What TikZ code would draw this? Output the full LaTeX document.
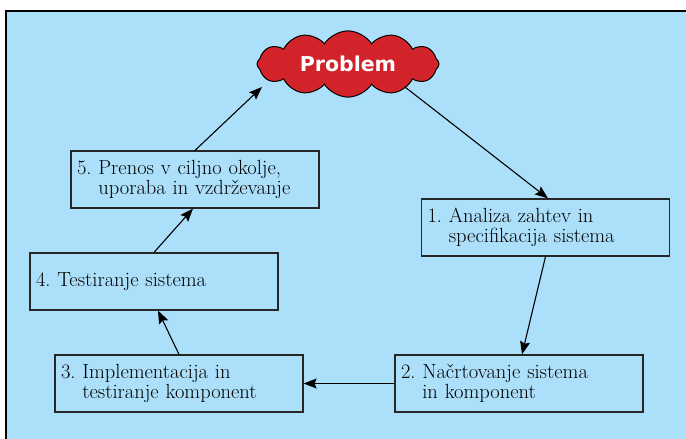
\documentclass[tikz,border=0pt]{standalone}
\usepackage{fontspec}
\newfontfamily\cloudfont{DejaVu Sans}
\usetikzlibrary{shapes.symbols,arrows.meta}
\definecolor{bgblue}{HTML}{ACE0FA}
\definecolor{cloudred}{HTML}{D2232A}
\tikzset{
  stepbox/.style={draw=black!85, line width=1.2pt, minimum width=248pt, minimum height=57pt,
    text width=236pt, inner sep=6pt, align=left,
    font=\rmfamily\frenchspacing\fontsize{20.5}{20}\selectfont},
  arr/.style={line width=1.1pt, -{Stealth[length=13pt,width=10pt,inset=2pt]}},
}
\begin{document}
\begin{tikzpicture}[x=1pt,y=-1pt]
\useasboundingbox (0,0) rectangle (686,439);
\fill[white] (0,0) rectangle (686,439);
\draw[fill=bgblue, line width=1.2pt] (6,11) rectangle (700,450);

\node[cloud, cloud puffs=12, cloud puff arc=115, aspect=2.8, fill=cloudred, draw=black,
  line width=1pt, minimum width=182pt, minimum height=64pt, inner sep=0pt,
  text=white, font=\cloudfont\bfseries\fontsize{20.5}{22}\selectfont] (cl) at (348,64) {Problem};

\node[stepbox] (b1) at (545.5,227.5) {1. Analiza zahtev in\\\hphantom{1. }specifikacija sistema};
\node[stepbox] (b2) at (519,383.5) {2. Načrtovanje sistema\\\hphantom{2. }in komponent};
\node[stepbox] (b3) at (179,383.5) {3. Implementacija in\\\hphantom{3. }testiranje komponent};
\node[stepbox] (b4) at (154,281.5) {4. Testiranje sistema};
\node[stepbox] (b5) at (195,179.5) {5. Prenos v ciljno okolje,\\\hphantom{5. }uporaba in vzdrževanje};

\draw[arr] ([shift={(57,23)}]cl.center) -- ([xshift=2.5pt]b1.north);
\draw[arr] (b1.south) -- ([xshift=3pt]b2.north);
\draw[arr] (b2.west) -- (b3.east);
\draw[arr] (b3.north) -- ([xshift=4pt]b4.south);
\draw[arr] (b4.north) -- ([xshift=-2pt]b5.south);
\draw[arr] (b5.north) -- ([shift={(-86,23)}]cl.center);
\end{tikzpicture}
\end{document}
